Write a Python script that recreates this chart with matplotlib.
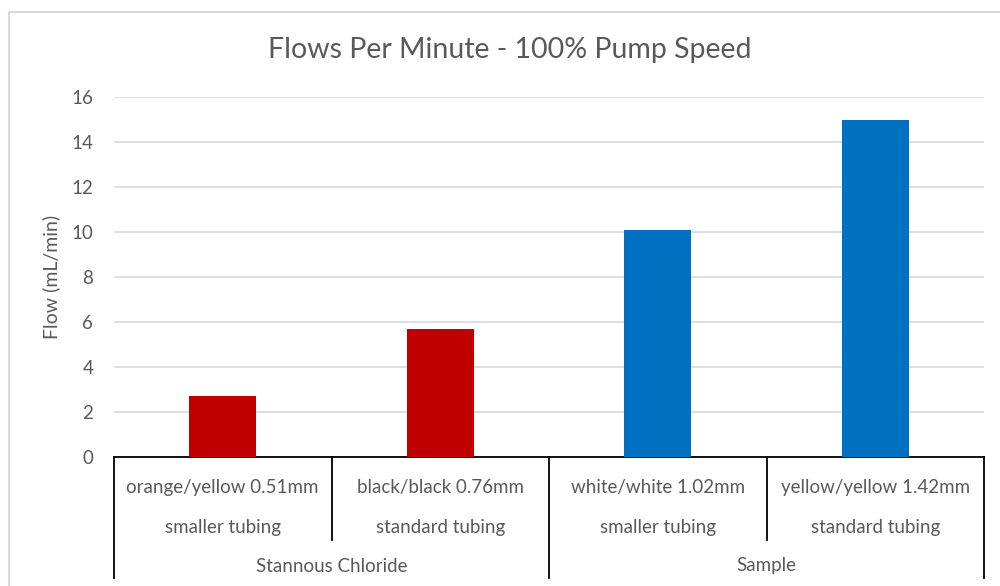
import matplotlib
matplotlib.use("Agg")
import matplotlib.pyplot as plt
from matplotlib.lines import Line2D
from matplotlib.patches import Rectangle

tubing = ["orange/yellow 0.51mm", "black/black 0.76mm",
          "white/white 1.02mm", "yellow/yellow 1.42mm"]
size = ["smaller tubing", "standard tubing", "smaller tubing", "standard tubing"]
groups = ["Stannous Chloride", "Sample"]
group_members = [2, 2]
flow = [2.7, 5.7, 10.1, 15.0]
colors = ["#C00000", "#C00000", "#0070C0", "#0070C0"]

plt.rcParams['font.family'] = ['Lato', 'DejaVu Sans']
txt = "#595959"

fig = plt.figure(figsize=(10, 5.86), dpi=100)
W, H = 1000, 586

# chart frame (only top and left edges fall inside the image)
fig.patches.append(Rectangle((9 / W, -0.5), 1.5, 1.5 - 12 / H, transform=fig.transFigure,
                             fill=False, edgecolor="#D9D9D9", lw=1.5))

left, right, y0, y16 = 114, 984, 457, 97
ax = fig.add_axes([left / W, 1 - y0 / H, (right - left) / W, (y0 - y16) / H])

x = range(len(flow))
ax.bar(x, flow, width=0.31, color=colors, zorder=3)
ax.set_xlim(-0.5, len(flow) - 0.5)
ax.set_ylim(0, 16)
ax.set_yticks(range(0, 17, 2))
ax.yaxis.grid(True, color="#D9D9D9", lw=1.2)
ax.set_axisbelow(True)
for s in ax.spines.values():
    s.set_visible(False)
ax.tick_params(axis="y", length=0, pad=15, labelsize=13.5, labelcolor=txt)
ax.set_xticks([])
ax.set_ylabel("Flow (mL/min)", fontsize=14, color=txt, labelpad=8)

fig.text(0.51, 1 - 50 / H, "Flows Per Minute - 100% Pump Speed",
         ha="center", va="center", fontsize=20.5, color=txt)

# multi-level category axis, positions given in pixel rows below the baseline
bt = ax.get_xaxis_transform()
def fy(py):
    return -(py - y0) / (y0 - y16)

ax.add_line(Line2D([-0.5, len(flow) - 0.5], [0, 0], transform=bt,
                   color="black", lw=1.3, clip_on=False))
bounds = [-0.5]
for n in group_members:
    bounds.append(bounds[-1] + n)
for b in range(len(flow) + 1):
    xb = b - 0.5
    end = 578 if xb in bounds else 540
    ax.add_line(Line2D([xb, xb], [0, fy(end)], transform=bt,
                       color="black", lw=1.3, clip_on=False))

for i in x:
    ax.text(i, fy(487), tubing[i], transform=bt,
            ha="center", va="center", fontsize=13.5, color=txt)
    ax.text(i, fy(527), size[i], transform=bt,
            ha="center", va="center", fontsize=13.5, color=txt)
start = -0.5
for g, n in zip(groups, group_members):
    ax.text(start + n / 2, fy(566), g, transform=bt,
            ha="center", va="center", fontsize=13.5, color=txt)
    start += n

fig.savefig("out.png", dpi=100)
